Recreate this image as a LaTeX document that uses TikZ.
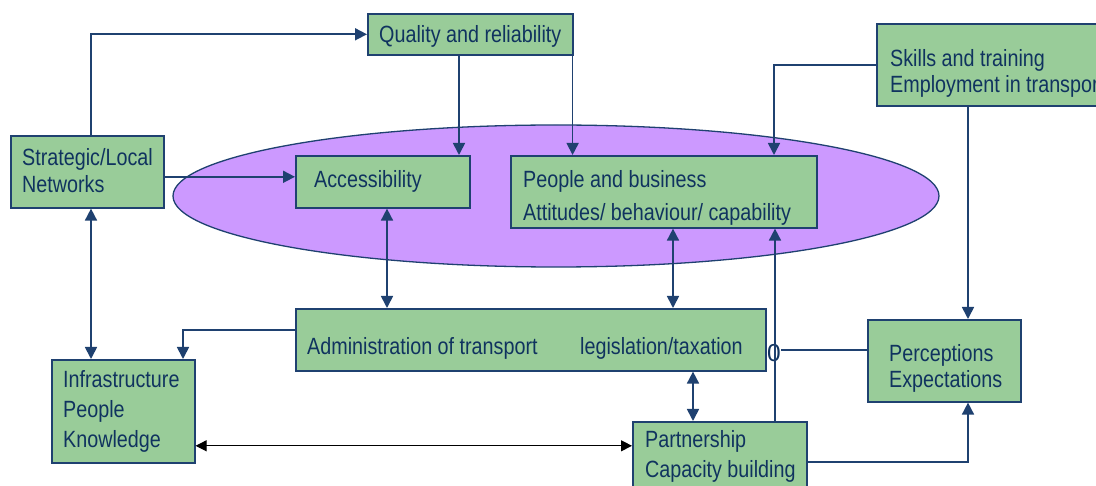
\documentclass[tikz,border=0pt]{standalone}
\usepackage{fontspec}
\setmainfont{Liberation Sans}[FakeStretch=0.84]
\newfontfamily\zerofont{Liberation Sans}
\usetikzlibrary{arrows.meta,shapes.geometric}
\definecolor{boxgreen}{HTML}{99CC99}
\definecolor{navy}{HTML}{1F4170}
\definecolor{txtnavy}{HTML}{10335F}
\definecolor{ovalpurple}{HTML}{CC99FF}
\begin{document}
\begin{tikzpicture}[x=1pt,y=-1pt,
  box/.style={draw=navy, fill=boxgreen, line width=1.6pt, inner sep=0pt, anchor=north west},
  txt/.style={anchor=base west, inner sep=0pt, text=txtnavy, font=\fontsize{23.5}{28}\selectfont},
  conn/.style={draw=navy, line width=1.7pt},
  arr/.style={conn, -{Triangle[length=12pt,width=12pt]}},
  darr/.style={conn, {Triangle[length=12pt,width=12pt]}-{Triangle[length=12pt,width=12pt]}},
  barr/.style={draw=black, line width=1.1pt, {Triangle[length=11pt,width=11pt]}-{Triangle[length=11pt,width=11pt]}},
]
\useasboundingbox (0,0) rectangle (1096,486);
\fill[white] (0,0) rectangle (1096,486);

% ellipse
\node[draw=navy, fill=ovalpurple, line width=1.3pt, ellipse, minimum width=766pt, minimum height=142pt, inner sep=0pt] (oval) at (556,196) {};

% boxes
\node[box, minimum width=205pt, minimum height=41pt] (qual) at (367,13) {};
\node[box, minimum width=153pt, minimum height=72pt] (strat) at (10,135) {};
\node[box, minimum width=174pt, minimum height=52pt] (acc) at (295,155) {};
\node[box, minimum width=306pt, minimum height=72pt] (ppl) at (510,155) {};
\node[box, minimum width=240pt, minimum height=82pt] (skill) at (876,23) {};
\node[box, minimum width=470pt, minimum height=62pt] (admin) at (295,308) {};
\node[box, minimum width=143pt, minimum height=103pt] (infra) at (51,359) {};
\node[box, minimum width=153pt, minimum height=82pt] (perc) at (867,319) {};
\node[box, minimum width=174pt, minimum height=80pt] (part) at (632,421) {};

% texts
\node[txt] (t-qual) at (379,42.3) {Quality and reliability};
\node[txt] (t-strat1) at (22,165.5) {Strategic/Local};
\node[txt] (t-strat2) at (22,193) {Networks};
\node[txt] (t-acc) at (314,188) {Accessibility};
\node[txt] (t-ppl1) at (523,188) {People and business};
\node[txt] (t-ppl2) at (523,220.5) {Attitudes/ behaviour/ capability};
\node[txt] (t-skill1) at (890,66.5) {Skills and training};
\node[txt] (t-skill2) at (890,93) {Employment in transport};
\node[txt] (t-admin1) at (307,355) {Administration of transport};
\node[txt] (t-admin2) at (580,355) {legislation/taxation};
\node[txt] (t-infra1) at (63,388) {Infrastructure};
\node[txt] (t-infra2) at (63,418) {People};
\node[txt] (t-infra3) at (63,447) {Knowledge};
\node[txt] (t-perc1) at (889,362) {Perceptions};
\node[txt] (t-perc2) at (889,388) {Expectations};
\node[txt] (t-part1) at (645,448) {Partnership};
\node[txt] (t-part2) at (645,477) {Capacity building};
\node[txt, font=\zerofont\fontsize{24.5}{28}\selectfont] (zero) at (767,362) {0};

% connectors
\draw[arr] ([xshift=81pt]strat.north west) |- (qual.west);
\draw[darr] ([xshift=81pt]strat.south west) -- ([xshift=40pt]infra.north west);
\draw[arr] ([yshift=-5pt]strat.east) -- ([yshift=-5pt]strat.east -| acc.west);
\draw[arr] ([xshift=92pt]qual.south west) -- ([xshift=92pt]qual.south west |- acc.north);
\draw[arr] ([xshift=-1pt]qual.south east) -- ([xshift=-1pt]qual.south east |- ppl.north);
\draw[arr] (skill.west) -| ([xshift=264pt]ppl.north west);
\draw[arr] ([xshift=92pt]skill.south west) -- ([xshift=92pt]skill.south west |- perc.north);
\draw[darr] ([xshift=92pt]acc.south west) -- ([xshift=92pt]acc.south west |- admin.north);
\draw[darr] ([xshift=163pt]ppl.south west) -- ([xshift=163pt]ppl.south west |- admin.north);
\draw[arr] ([yshift=10pt]admin.west) -| ([xshift=132pt]infra.north west);
\draw[darr] ([xshift=398pt]admin.south west) -- ([xshift=398pt]admin.south west |- part.north);
\draw[arr] ([xshift=143pt]part.north west) -- ([xshift=143pt]part.north west |- ppl.south);
\draw[conn] ([yshift=11pt]perc.west) -- ([yshift=11pt]perc.west -| zero.east);
\draw[arr] (part.east) -| ([xshift=101pt]perc.south west);
\draw[barr] ([yshift=-34.5pt]infra.east) -- ([yshift=-34.5pt]infra.east -| part.west);
\end{tikzpicture}
\end{document}
